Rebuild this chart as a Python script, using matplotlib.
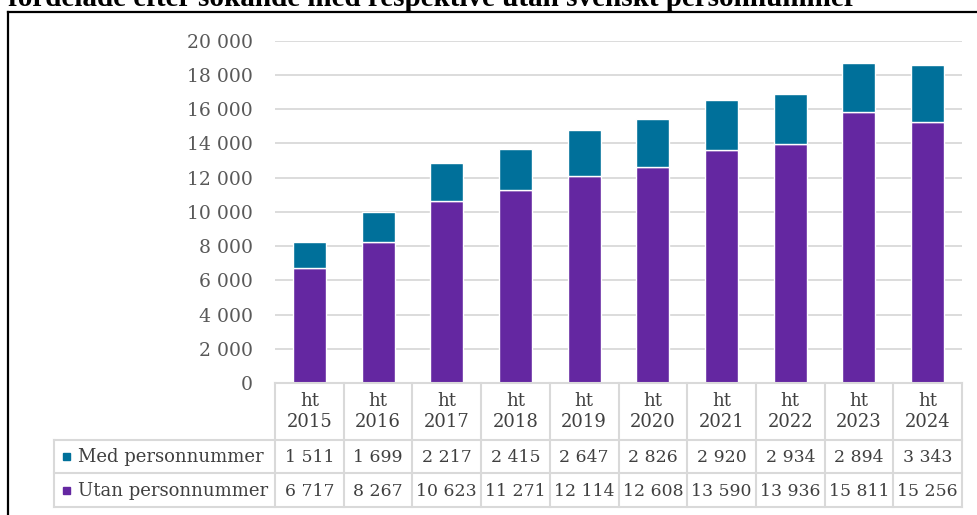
import numpy as np
import matplotlib
matplotlib.use('Agg')
import matplotlib.pyplot as plt

# Data
years = ['2015', '2016', '2017', '2018', '2019', '2020', '2021', '2022', '2023', '2024']
labels = ['ht\n' + y for y in years]
med = [1511, 1699, 2217, 2415, 2647, 2826, 2920, 2934, 2894, 3343]
utan = [6717, 8267, 10623, 11271, 12114, 12608, 13590, 13936, 15811, 15256]

series_names = ['Med personnummer', 'Utan personnummer']
c_med = '#00709A'
c_utan = '#6427A1'
grid_c = '#D9D9D9'
txt_c = '#404040'

def fmt(v):
    return '{:,}'.format(int(v)).replace(',', ' ')

W, H = 978, 515
fig = plt.figure(figsize=(W / 100, H / 100), dpi=100)
plt.rcParams['font.family'] = 'DejaVu Serif'

# main plot area in pixel positions
L, R, T, B = 275, 962, 40.7, 383
ax = fig.add_axes([L / W, 1 - B / H, (R - L) / W, (B - T) / H])

x = np.arange(len(years))
ax.bar(x, utan, width=0.48, color=c_utan, edgecolor='white', linewidth=1, zorder=3)
ax.bar(x, med, bottom=utan, width=0.48, color=c_med, edgecolor='white', linewidth=1, zorder=3)

ax.set_xlim(-0.5, len(years) - 0.5)
ax.set_ylim(0, 20000)
ax.set_yticks(range(0, 20001, 2000))
ax.set_yticklabels([fmt(v) for v in range(0, 20001, 2000)], fontsize=13.5, color='#595959')
ax.tick_params(axis='y', length=0, pad=16)
ax.set_xticks([])
ax.yaxis.grid(True, color=grid_c, linewidth=1.3, zorder=0)
for s in ['left', 'right', 'top']:
    ax.spines[s].set_visible(False)
ax.spines['bottom'].set_color(grid_c)
ax.spines['bottom'].set_linewidth(1.3)

# overlay in pixel coordinates for the data table, title and frame
ov = fig.add_axes([0, 0, 1, 1])
ov.set_xlim(0, W)
ov.set_ylim(H, 0)
ov.axis('off')
ov.patch.set_alpha(0)

n = len(years)
cw = (R - L) / n
rows = [B, 440, 473, 507]
lc = dict(color=grid_c, linewidth=1.5)

# horizontal table lines
ov.plot([L, R], [rows[0], rows[0]], **lc)
for yy in rows[1:]:
    ov.plot([54, R], [yy, yy], **lc)
# vertical table lines
ov.plot([54, 54], [rows[1], rows[3]], **lc)
for i in range(n + 1):
    xx = L + i * cw
    ov.plot([xx, xx], [rows[0], rows[3]], **lc)

fs = 13
fn = 12.4
for i in range(n):
    cx = L + (i + 0.5) * cw
    ov.text(cx, (rows[0] + rows[1]) / 2, labels[i], ha='center', va='center',
            fontsize=fs, color=txt_c, linespacing=1.15)
    ov.text(cx, (rows[1] + rows[2]) / 2 + 1, fmt(med[i]), ha='center', va='center',
            fontsize=fn, color=txt_c)
    ov.text(cx, (rows[2] + rows[3]) / 2 + 1, fmt(utan[i]), ha='center', va='center',
            fontsize=fn, color=txt_c)

for k, (name, col) in enumerate(zip(series_names, [c_med, c_utan])):
    yc = (rows[k + 1] + rows[k + 2]) / 2
    ov.add_patch(plt.Rectangle((63, yc - 3.5), 7, 7, color=col))
    ov.text(78, yc + 1, name, ha='left', va='center', fontsize=fs, color=txt_c)

# frame (extends beyond figure on right/bottom)
ov.plot([8, W + 5], [12, 12], color='black', linewidth=1.6)
ov.plot([8, 8], [12, H + 5], color='black', linewidth=1.6)

# cropped title
ov.text(8, 6, 'fördelade efter sökande med respektive utan svenskt personnummer',
        ha='left', va='baseline', fontsize=21, fontweight='bold',
        family='Liberation Serif', color='black')

fig.savefig('out.png', dpi=100)
